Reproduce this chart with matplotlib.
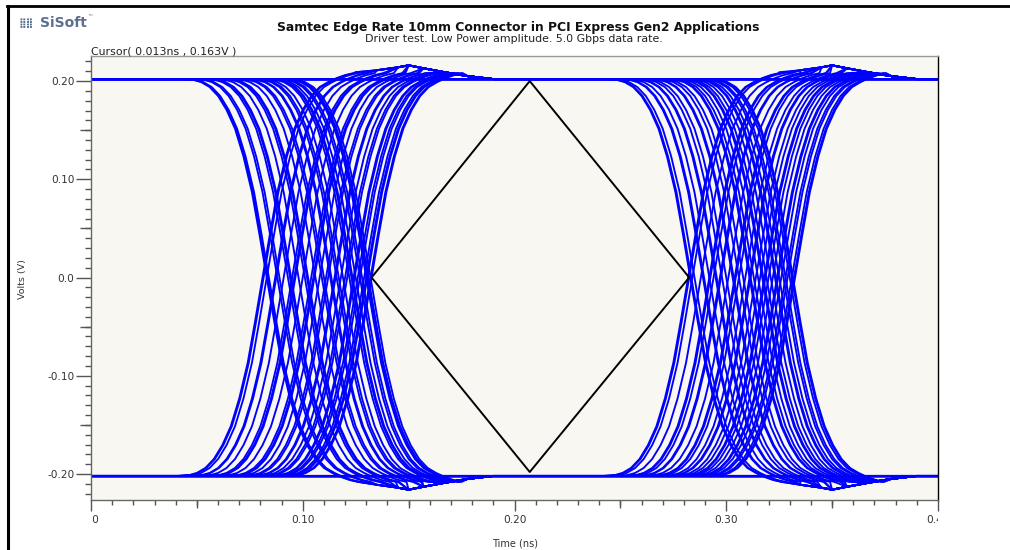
import numpy as np
import matplotlib
matplotlib.use("Agg")
import matplotlib.pyplot as plt
from matplotlib.lines import Line2D
from matplotlib.ticker import MultipleLocator
from matplotlib.transforms import Bbox, TransformedBbox

plt.rcParams['font.family'] = ['DejaVu Sans']

# ---------------- data ----------------
title = "Samtec Edge Rate 10mm Connector in PCI Express Gen2 Applications"
subtitle = "Driver test. Low Power amplitude. 5.0 Gbps data rate."
cursor_text = "Cursor( 0.013ns , 0.163V )"

rail_hi = 0.202
rail_lo = -0.202

# zero-crossing times (ns) of the edges, first crossing region
fall_1 = [0.083, 0.0835, 0.084, 0.088, 0.089, 0.093, 0.094, 0.0945, 0.098, 0.101,
          0.102, 0.1025, 0.106, 0.109, 0.110, 0.113, 0.1135, 0.116, 0.117, 0.119,
          0.122, 0.123, 0.1235, 0.125, 0.127, 0.128, 0.130, 0.1305, 0.131, 0.132]
rise_1 = [0.081, 0.0815, 0.083, 0.087, 0.0875, 0.091, 0.095, 0.096, 0.0965, 0.100,
          0.104, 0.105, 0.1055, 0.108, 0.111, 0.112, 0.115, 0.1155, 0.118, 0.120,
          0.121, 0.124, 0.1245, 0.126, 0.127, 0.129, 0.130, 0.1305, 0.132, 0.1325]
# second crossing region
fall_2 = [0.283, 0.2835, 0.285, 0.289, 0.2895, 0.292, 0.295, 0.2955, 0.298, 0.300,
          0.303, 0.3035, 0.306, 0.308, 0.311, 0.3115, 0.313, 0.315, 0.317, 0.3175,
          0.319, 0.321, 0.323, 0.3235, 0.325, 0.327, 0.328, 0.330, 0.331, 0.3315]
rise_2 = [0.282, 0.2825, 0.284, 0.288, 0.292, 0.2925, 0.294, 0.297, 0.2975, 0.301,
          0.304, 0.3045, 0.306, 0.309, 0.311, 0.3115, 0.314, 0.316, 0.318, 0.3185,
          0.320, 0.322, 0.324, 0.3245, 0.326, 0.328, 0.329, 0.331, 0.332, 0.3325]

# edge waveform: offset from zero crossing (ns) -> level / rail
edge_tau = [-0.040, -0.035, -0.031, -0.027, -0.023, -0.019, -0.015, -0.011,
            -0.007, -0.0035, 0.0, 0.0035, 0.007, 0.011, 0.015, 0.019, 0.023,
            0.027, 0.031, 0.035, 0.039, 0.043]
edge_shape = [1.0, 0.997, 0.985, 0.96, 0.915, 0.845, 0.75, 0.61,
              0.43, 0.22, 0.0, -0.22, -0.43, -0.61, -0.75, -0.845, -0.915,
              -0.96, -0.985, -1.005, -1.02, -1.03]

# overshoot hump after each crossing region (time ns, extra volts)
hump_t_1 = [0.125, 0.135, 0.145, 0.150, 0.157, 0.167, 0.178, 0.190]
hump_t_2 = [0.325, 0.335, 0.345, 0.350, 0.357, 0.367, 0.378, 0.390]
hump_v = [0.007, 0.009, 0.012, 0.014, 0.011, 0.007, 0.003, 0.0]

# eye mask diamond
mask_t = [0.1325, 0.2072, 0.2825, 0.2072, 0.1325]
mask_v = [0.0, 0.200, 0.0, -0.198, 0.0]

x_ticks = [0.0, 0.1, 0.2, 0.3, 0.4]
x_labels = ["0.0", "0.10", "0.20", "0.30", "0.40"]
y_ticks = [-0.2, -0.1, 0.0, 0.1, 0.2]
y_labels = ["-0.20", "-0.10", "0.0", "0.10", "0.20"]

# ---------------- figure ----------------
W, H = 1010, 550
fig = plt.figure(figsize=(W / 100, H / 100), dpi=100)
fig.patch.set_facecolor('white')
ax = fig.add_axes([91 / W, 50 / H, 847 / W, 444 / H])
ax.set_facecolor('#f8f7f1')
ax.set_xlim(0, 0.4)
ax.set_ylim(-0.2265, 0.2255)

blue = '#0000ff'


def trace(tc, falling, hump_t):
    s = 1.0 if falling else -1.0
    rail_a = rail_hi if falling else rail_lo
    rail_b = rail_lo if falling else rail_hi
    xs = [0.0]
    ys = [rail_a]
    for tau, v in zip(edge_tau, edge_shape):
        xs.append(tc + tau)
        ys.append(s * v * abs(rail_a) if v * s >= 0 else s * v * abs(rail_b))
    end = tc + edge_tau[-1]
    for ht, hv in zip(hump_t, hump_v):
        if ht > end:
            xs.append(ht)
            ys.append(rail_b - s * hv)
    xs.append(0.4)
    ys.append(rail_b)
    return xs, ys


LW = 1.35
for tc in fall_1:
    ax.plot(*trace(tc, True, hump_t_1), color=blue, lw=LW)
for tc in rise_1:
    ax.plot(*trace(tc, False, hump_t_1), color=blue, lw=LW)
for tc in fall_2:
    ax.plot(*trace(tc, True, hump_t_2), color=blue, lw=LW)
for tc in rise_2:
    ax.plot(*trace(tc, False, hump_t_2), color=blue, lw=LW)
ax.plot([0, 0.4], [rail_hi, rail_hi], color=blue, lw=1.8)
ax.plot([0, 0.4], [rail_lo, rail_lo], color=blue, lw=1.8)

ax.plot(mask_t, mask_v, color='black', lw=1.4)

# spines
ax.spines['top'].set_color('#999999')
ax.spines['right'].set_color('#000000')
ax.spines['left'].set_color('#666666')
ax.spines['bottom'].set_color('#666666')
for sp in ax.spines.values():
    sp.set_linewidth(1.0)

tick_col = '#555555'
lab_col = '#333333'
ax.set_xticks(x_ticks, labels=x_labels)
ax.set_yticks(y_ticks, labels=y_labels)
ax.xaxis.set_minor_locator(MultipleLocator(0.01))
ax.yaxis.set_minor_locator(MultipleLocator(0.01))
ax.tick_params(axis='x', which='major', direction='out', length=8, width=1,
               color=tick_col, labelcolor=lab_col, labelsize=7.6, pad=3)
ax.tick_params(axis='x', which='minor', direction='out', length=3.6, width=1,
               color=tick_col)
ax.tick_params(axis='y', which='major', direction='out', length=10.5, width=1,
               color=tick_col, labelcolor=lab_col, labelsize=7.6, pad=1.5)
ax.tick_params(axis='y', which='minor', direction='out', length=4.3, width=1,
               color=tick_col)

secx = ax.secondary_xaxis('bottom')
secx.set_xticks([0.05, 0.15, 0.25, 0.35], labels=[])
secx.tick_params(length=5.8, width=1, color=tick_col)
for sp in secx.spines.values():
    sp.set_visible(False)
secy = ax.secondary_yaxis('left')
secy.set_yticks([-0.15, -0.05, 0.05, 0.15], labels=[])
secy.tick_params(length=8, width=1, color=tick_col)
for sp in secy.spines.values():
    sp.set_visible(False)

clip = TransformedBbox(Bbox([[0, -1], [1, 0.5]]), ax.transAxes)
for lab in ax.get_xticklabels():
    lab.set_clip_on(True)
    lab.set_clip_box(clip)

# texts
fig.text(518 / W, 1 - 27 / H, title, ha='center', va='center',
         fontsize=8.95, fontweight='bold', color='#111111')
fig.text(514 / W, 1 - 39 / H, subtitle, ha='center', va='center',
         fontsize=7.9, color='#222222')
fig.text(91 / W, 1 - 51 / H, cursor_text, ha='left', va='center',
         fontsize=7.9, color='#222222')
fig.text(22 / W, 1 - 279 / H, 'Volts (V)', rotation=90, ha='center',
         va='center', fontsize=6.8, color=lab_col)
fig.text(515 / W, 1 - 538 / H, 'Time (ns)', ha='center', va='top',
         fontsize=7, color=lab_col)

# logo
fig.text(19 / W, 1 - 23 / H, '\u28ff\u28ff', ha='left', va='center', fontsize=7,
         color='#5b7091', fontweight='bold')
fig.text(40 / W, 1 - 23 / H, 'SiSoft', ha='left', va='center', fontsize=10,
         fontweight='bold', color='#5b7091')
fig.text(87 / W, 1 - 18 / H, '\u2122', ha='left', va='center', fontsize=4,
         color='#5b7091')

# outer frame (left and top)
fig.add_artist(Line2D([7.5 / W, 7.5 / W], [0, 1 - 5.5 / H],
                      transform=fig.transFigure, color='black', lw=2.2))
fig.add_artist(Line2D([6.5 / W, 1], [1 - 5.5 / H, 1 - 5.5 / H],
                      transform=fig.transFigure, color='black', lw=2.0))

fig.savefig('out.png', dpi=100)
